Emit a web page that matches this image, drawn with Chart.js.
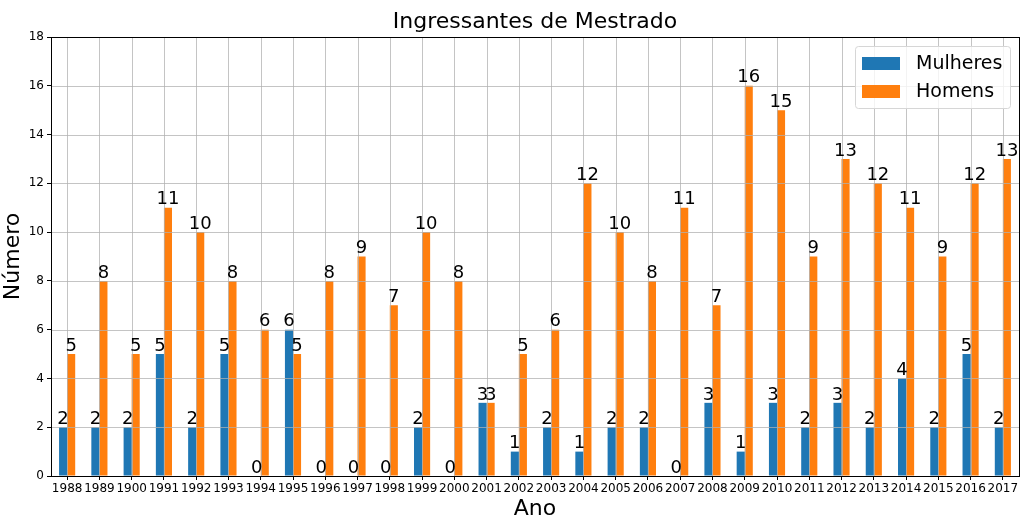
<!DOCTYPE html>
<html>
<head>
<meta charset="utf-8">
<script src="https://cdn.jsdelivr.net/npm/chart.js@4/dist/chart.umd.min.js"></script>
<style>
    html, body { margin: 0; padding: 0; background: #fff; }
    #wrap { width: 1024px; height: 522px; }
</style>
</head>
<body>
<div id="wrap"><canvas id="chart" width="1024" height="522"></canvas></div>
<script>
// Data
const anos = ['1988', '1989', '1900', '1991', '1992', '1993', '1994', '1995', '1996', '1997',
    '1998', '1999', '2000', '2001', '2002', '2003', '2004', '2005', '2006', '2007',
    '2008', '2009', '2010', '2011', '2012', '2013', '2014', '2015', '2016', '2017'];
const mulheres = [2, 2, 2, 5, 2, 5, 0, 6, 0, 0, 0, 2, 0, 3, 1, 2, 1, 2, 2, 0, 3, 1, 3, 2, 3, 2, 4, 2, 5, 2];
const homens = [5, 8, 5, 11, 10, 8, 6, 5, 8, 9, 7, 10, 8, 3, 5, 6, 12, 10, 8, 11, 7, 16, 15, 9, 13, 12, 11, 9, 12, 13];
const yTicks = [0, 2, 4, 6, 8, 10, 12, 14, 16, 18];

const FONT = "'DejaVu Sans', sans-serif";
const GRID = 'rgba(176, 176, 176, 0.75)';

// Gridlines on top of the bars, plus frame, title, labels and legend
const decorations = {
    id: 'decorations',
    afterDatasetsDraw(chart) {
        const { ctx, chartArea: a, scales } = chart;
        ctx.save();

        // grid
        ctx.strokeStyle = GRID;
        ctx.lineWidth = 1;
        ctx.beginPath();
        anos.forEach((_, i) => {
            const x = Math.round(scales.x.getPixelForValue(i)) + 0.5;
            ctx.moveTo(x, a.top);
            ctx.lineTo(x, a.bottom);
        });
        yTicks.forEach(v => {
            const y = Math.round(scales.y.getPixelForValue(v)) + 0.5;
            ctx.moveTo(a.left, y);
            ctx.lineTo(a.right, y);
        });
        ctx.stroke();

        // frame
        ctx.strokeStyle = '#000';
        ctx.lineWidth = 1;
        ctx.strokeRect(Math.round(a.left) + 0.5, Math.round(a.top) + 0.5,
            Math.round(a.right - a.left), Math.round(a.bottom - a.top));

        // value labels
        ctx.fillStyle = '#000';
        ctx.font = '18px ' + FONT;
        ctx.textAlign = 'center';
        ctx.textBaseline = 'bottom';
        chart.data.datasets.forEach((ds, di) => {
            chart.getDatasetMeta(di).data.forEach((bar, i) => {
                ctx.fillText(String(ds.data[i]), bar.x, bar.y + 1);
            });
        });

        // title
        ctx.font = '22px ' + FONT;
        ctx.textBaseline = 'middle';
        ctx.fillText('Ingressantes de Mestrado', (a.left + a.right) / 2, 22);

        // legend
        const lx = 855, ly = 46, lw = 155, lh = 62;
        ctx.fillStyle = 'rgba(255,255,255,0.8)';
        ctx.strokeStyle = '#d6d6d6';
        ctx.beginPath();
        ctx.roundRect(lx + 0.5, ly + 0.5, lw, lh, 3);
        ctx.fill();
        ctx.stroke();
        ctx.font = '19px ' + FONT;
        ctx.textAlign = 'left';
        chart.data.datasets.forEach((ds, di) => {
            const cy = ly + 17 + di * 28;
            ctx.fillStyle = ds.backgroundColor;
            ctx.fillRect(lx + 7, cy - 6, 38, 13);
            ctx.fillStyle = '#000';
            ctx.fillText(ds.label, lx + 61, cy + 1);
        });

        ctx.restore();
    }
};

new Chart(document.getElementById('chart'), {
    type: 'bar',
    data: {
        labels: anos,
        datasets: [
            { label: 'Mulheres', data: mulheres, backgroundColor: '#1f77b4' },
            { label: 'Homens', data: homens, backgroundColor: '#ff7f0e' }
        ]
    },
    options: {
        responsive: false,
        animation: false,
        devicePixelRatio: 1,
        categoryPercentage: 0.5,
        barPercentage: 1.0,
        layout: { padding: { top: 37, right: 5, left: 0, bottom: 0 } },
        plugins: {
            legend: { display: false },
            title: { display: false },
            tooltip: { enabled: false }
        },
        scales: {
            x: {
                offset: true,
                grid: { display: true, drawOnChartArea: false, offset: false, tickLength: 4, color: '#000' },
                border: { display: false },
                ticks: { color: '#000', font: { family: FONT, size: 12 }, maxRotation: 0, autoSkip: false, padding: 2 },
                title: { display: true, text: 'Ano', color: '#000', font: { family: FONT, size: 22 }, padding: 0 },
                afterFit(scale) { scale.height = 46; }
            },
            y: {
                min: 0,
                max: 18,
                grid: { display: true, drawOnChartArea: false, tickLength: 4, color: '#000' },
                border: { display: false },
                ticks: { stepSize: 2, color: '#000', font: { family: FONT, size: 12 }, padding: 3 },
                title: { display: true, text: 'Número', color: '#000', font: { family: FONT, size: 22 }, padding: 0 },
                afterFit(scale) { scale.width = 51; }
            }
        }
    },
    plugins: [decorations]
});
</script>
</body>
</html>
